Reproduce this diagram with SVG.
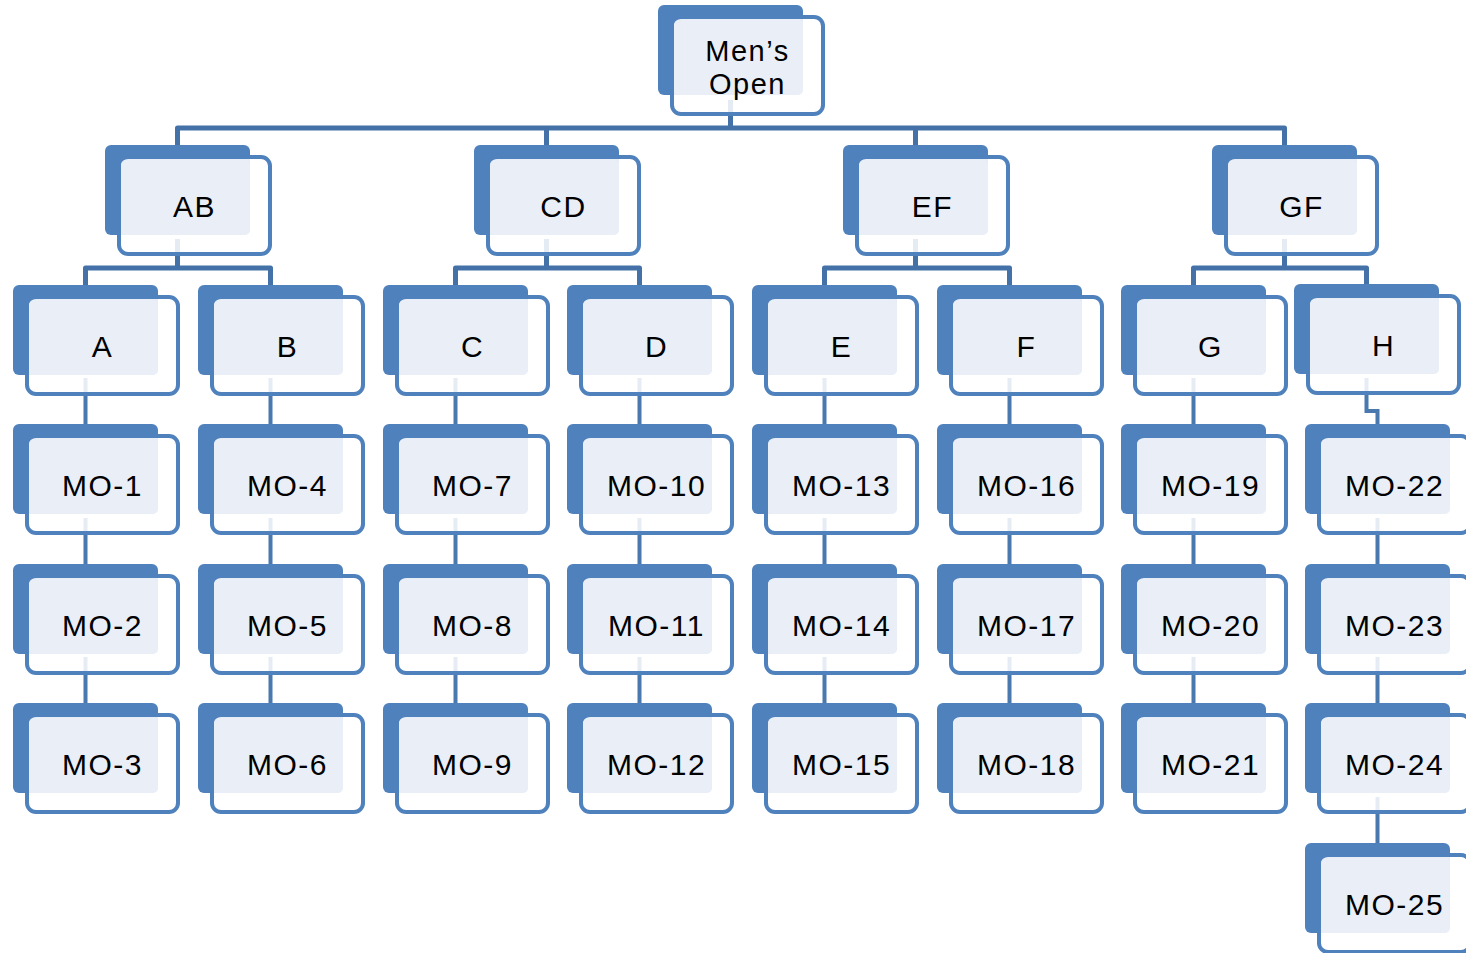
<svg xmlns="http://www.w3.org/2000/svg" xmlns:xlink="http://www.w3.org/1999/xlink" width="1466" height="953" viewBox="0 0 1466 953">
<style>
.bk{fill:#4F81BD}
.fr{fill:#FFFFFF;fill-opacity:0.86;stroke:#4F81BD;stroke-width:4}
.lt{fill:#EAEFF7}
.cn{fill:none;stroke:#4472A8;stroke-width:5;stroke-linejoin:round}
.cv{fill:none;stroke:#4A79B0;stroke-width:4}
text{font-family:"Liberation Sans",Arial,sans-serif;font-size:30px;fill:#000;text-anchor:middle;letter-spacing:1.5px}
</style>
<defs>
<g id="box">
<rect class="bk" x="0" y="0" width="145" height="90" rx="6"/>
<rect class="fr" x="14" y="12" width="151" height="97" rx="9"/>
<rect class="lt" x="16" y="15" width="129" height="75" rx="5"/>
</g>
</defs>
<g id="connectors">
<path class="cn" d="M177.5 145V128H1284.5V145M546.5 128V145M915.5 128V145M730.5 100V128"/>
<path class="cn" d="M177.5 239V268M85.5 285V268H270.5V285M546.5 239V268M455.5 285V268H639.5V285M915.5 239V268M824.5 285V268H1009.5V285M1284.5 239V268M1193.5 285V268H1366.5V284"/>
<path class="cv" d="M85.5 378V424M85.5 518V564M85.5 657V703M270.5 378V424M270.5 518V564M270.5 657V703M455.5 378V424M455.5 518V564M455.5 657V703M639.5 378V424M639.5 518V564M639.5 657V703M824.5 378V424M824.5 518V564M824.5 657V703M1009.5 378V424M1009.5 518V564M1009.5 657V703M1193.5 378V424M1193.5 518V564M1193.5 657V703M1366.5 378V411H1377.5V424M1377.5 518V564M1377.5 657V703M1377.5 797V843"/>
</g>
<g id="n-mens-open"><use xlink:href="#box" x="658" y="5"/><text x="747.5" y="61" style="font-size:29px"><tspan x="747.5" y="61">Men’s</tspan><tspan x="747.5" y="94">Open</tspan></text></g>
<g id="n-AB"><use xlink:href="#box" x="105" y="145"/><text x="194.5" y="217">AB</text></g>
<g id="n-CD"><use xlink:href="#box" x="474" y="145"/><text x="563.5" y="217">CD</text></g>
<g id="n-EF"><use xlink:href="#box" x="843" y="145"/><text x="932.5" y="217">EF</text></g>
<g id="n-GF"><use xlink:href="#box" x="1212" y="145"/><text x="1301.5" y="217">GF</text></g>
<g id="n-A"><use xlink:href="#box" x="13" y="285"/><text x="102.5" y="357">A</text></g>
<g id="n-B"><use xlink:href="#box" x="198" y="285"/><text x="287.5" y="357">B</text></g>
<g id="n-C"><use xlink:href="#box" x="383" y="285"/><text x="472.5" y="357">C</text></g>
<g id="n-D"><use xlink:href="#box" x="567" y="285"/><text x="656.5" y="357">D</text></g>
<g id="n-E"><use xlink:href="#box" x="752" y="285"/><text x="841.5" y="357">E</text></g>
<g id="n-F"><use xlink:href="#box" x="937" y="285"/><text x="1026.5" y="357">F</text></g>
<g id="n-G"><use xlink:href="#box" x="1121" y="285"/><text x="1210.5" y="357">G</text></g>
<g id="n-H"><use xlink:href="#box" x="1294" y="284"/><text x="1383.5" y="356">H</text></g>
<g id="n-MO-1"><use xlink:href="#box" x="13" y="424"/><text x="102.5" y="496">MO-1</text></g>
<g id="n-MO-2"><use xlink:href="#box" x="13" y="564"/><text x="102.5" y="636">MO-2</text></g>
<g id="n-MO-3"><use xlink:href="#box" x="13" y="703"/><text x="102.5" y="775">MO-3</text></g>
<g id="n-MO-4"><use xlink:href="#box" x="198" y="424"/><text x="287.5" y="496">MO-4</text></g>
<g id="n-MO-5"><use xlink:href="#box" x="198" y="564"/><text x="287.5" y="636">MO-5</text></g>
<g id="n-MO-6"><use xlink:href="#box" x="198" y="703"/><text x="287.5" y="775">MO-6</text></g>
<g id="n-MO-7"><use xlink:href="#box" x="383" y="424"/><text x="472.5" y="496">MO-7</text></g>
<g id="n-MO-8"><use xlink:href="#box" x="383" y="564"/><text x="472.5" y="636">MO-8</text></g>
<g id="n-MO-9"><use xlink:href="#box" x="383" y="703"/><text x="472.5" y="775">MO-9</text></g>
<g id="n-MO-10"><use xlink:href="#box" x="567" y="424"/><text x="656.5" y="496">MO-10</text></g>
<g id="n-MO-11"><use xlink:href="#box" x="567" y="564"/><text x="656.5" y="636">MO-11</text></g>
<g id="n-MO-12"><use xlink:href="#box" x="567" y="703"/><text x="656.5" y="775">MO-12</text></g>
<g id="n-MO-13"><use xlink:href="#box" x="752" y="424"/><text x="841.5" y="496">MO-13</text></g>
<g id="n-MO-14"><use xlink:href="#box" x="752" y="564"/><text x="841.5" y="636">MO-14</text></g>
<g id="n-MO-15"><use xlink:href="#box" x="752" y="703"/><text x="841.5" y="775">MO-15</text></g>
<g id="n-MO-16"><use xlink:href="#box" x="937" y="424"/><text x="1026.5" y="496">MO-16</text></g>
<g id="n-MO-17"><use xlink:href="#box" x="937" y="564"/><text x="1026.5" y="636">MO-17</text></g>
<g id="n-MO-18"><use xlink:href="#box" x="937" y="703"/><text x="1026.5" y="775">MO-18</text></g>
<g id="n-MO-19"><use xlink:href="#box" x="1121" y="424"/><text x="1210.5" y="496">MO-19</text></g>
<g id="n-MO-20"><use xlink:href="#box" x="1121" y="564"/><text x="1210.5" y="636">MO-20</text></g>
<g id="n-MO-21"><use xlink:href="#box" x="1121" y="703"/><text x="1210.5" y="775">MO-21</text></g>
<g id="n-MO-22"><use xlink:href="#box" x="1305" y="424"/><text x="1394.5" y="496">MO-22</text></g>
<g id="n-MO-23"><use xlink:href="#box" x="1305" y="564"/><text x="1394.5" y="636">MO-23</text></g>
<g id="n-MO-24"><use xlink:href="#box" x="1305" y="703"/><text x="1394.5" y="775">MO-24</text></g>
<g id="n-MO-25"><use xlink:href="#box" x="1305" y="843"/><text x="1394.5" y="915">MO-25</text></g>
</svg>
